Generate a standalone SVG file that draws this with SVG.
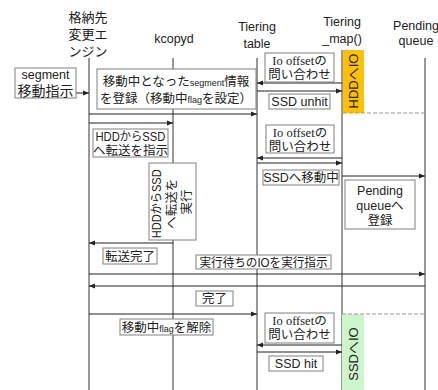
<svg xmlns="http://www.w3.org/2000/svg" width="438" height="390" viewBox="0 0 438 390">
<style>
text{font-family:"Liberation Sans","Noto Sans CJK JP",sans-serif;fill:#222;font-size:12.5px}
.c{text-anchor:middle}
.serif{font-family:"Liberation Serif","Noto Sans CJK JP",serif}
.box{fill:#fff;stroke:#808080;stroke-width:1}
.life{stroke:#333;stroke-width:1;fill:none}
.msg{stroke:#222;stroke-width:1;fill:none;marker-end:url(#ah)}
.dash{stroke:#999;stroke-width:1;stroke-dasharray:4 2;fill:none}
.sm{font-size:9px}
</style>
<defs>
<marker id="ah" markerUnits="userSpaceOnUse" markerWidth="6" markerHeight="6" refX="6" refY="3" orient="auto">
<path d="M0,0.5 L6,3 L0,5.5 z" fill="#222"/>
</marker>
</defs>

<g id="lifelines">
<line class="life" x1="89" y1="58" x2="89" y2="390"/>
<line class="life" x1="173" y1="58" x2="173" y2="390"/>
<line class="life" x1="257" y1="58" x2="257" y2="390"/>
<line class="life" x1="342" y1="50" x2="342" y2="390"/>
<line class="life" x1="425" y1="58" x2="425" y2="390"/>
</g>

<g id="engine">
<text class="c" x="88" y="22" style="font-size:13px">格納先</text>
<text class="c" x="88" y="39" style="font-size:13px">変更エ</text>
<text class="c" x="88" y="56" style="font-size:13px">ンジン</text>
</g>
<g id="kcopyd"><text class="c" x="174" y="43">kcopyd</text></g>
<g id="tiering-table">
<text class="c" x="257" y="31">Tiering</text>
<text class="c" x="257" y="48">table</text>
</g>
<g id="tiering-map">
<text class="c" x="342" y="26">Tiering</text>
<text class="c" x="342" y="43">_map()</text>
</g>
<g id="pending-queue">
<text class="c" x="416" y="30">Pending</text>
<text class="c" x="416" y="45">queue</text>
</g>

<g id="hdd-io">
<rect x="343" y="50" width="21" height="63" fill="#FFC000"/>
<text class="c" transform="translate(358,81) rotate(-90)" style="font-size:13px">HDDへIO</text>
</g>
<g id="ssd-io">
<rect x="342" y="314" width="22" height="76" fill="#CCF5CC"/>
<text class="c" transform="translate(358,354) rotate(-90)" style="font-size:13px">SSDへIO</text>
</g>

<g id="connectors">
<line class="msg" x1="36" y1="93" x2="89" y2="93"/>
<line class="msg" x1="89" y1="114" x2="257" y2="114"/>
<line class="msg" x1="89" y1="123" x2="173" y2="123"/>
<line class="msg" x1="342" y1="83" x2="257" y2="83"/>
<line class="msg" x1="257" y1="91" x2="342" y2="91"/>
<line class="dash" x1="343" y1="113" x2="425" y2="113"/>
<line class="msg" x1="342" y1="158" x2="257" y2="158"/>
<line class="msg" x1="257" y1="163" x2="342" y2="163"/>
<line class="msg" x1="342" y1="176" x2="425" y2="176"/>
<line class="msg" x1="173" y1="243" x2="89" y2="243"/>
<line class="msg" x1="89" y1="274" x2="425" y2="274"/>
<line class="msg" x1="425" y1="286" x2="89" y2="286"/>
<line class="msg" x1="89" y1="314" x2="257" y2="314"/>
<line class="dash" x1="342" y1="314" x2="425" y2="314"/>
<line class="msg" x1="342" y1="345" x2="257" y2="345"/>
<line class="msg" x1="257" y1="352" x2="342" y2="352"/>
</g>

<g id="segment-move">
<rect class="box" x="15" y="68" width="61" height="30"/>
<text class="c" x="45.5" y="79">segment</text>
<text class="c" x="45.5" y="96" style="font-size:14px">移動指示</text>
</g>
<g id="register-segment">
<rect class="box" x="97" y="69" width="159" height="40"/>
<text class="c" x="176" y="86">移動中となった<tspan class="sm">segment</tspan>情報</text>
<text class="c" x="176" y="103">を登録（移動中<tspan class="sm">flag</tspan>を設定）</text>
</g>
<g id="query1">
<rect class="box" x="265" y="53" width="69" height="29"/>
<text class="c serif" x="299.5" y="65">Io offsetの</text>
<text class="c" x="299.5" y="79">問い合わせ</text>
</g>
<g id="ssd-unhit">
<rect class="box" x="269" y="94" width="61" height="15"/>
<text class="c" x="299.5" y="106">SSD unhit</text>
</g>
<g id="instruct-transfer">
<rect class="box" x="93" y="129" width="75" height="28"/>
<text class="c" x="130.5" y="141" textLength="70" lengthAdjust="spacingAndGlyphs">HDDからSSD</text>
<text class="c" x="130.5" y="155">へ転送を指示</text>
</g>
<g id="query2">
<rect class="box" x="266" y="125" width="68" height="28"/>
<text class="c serif" x="300" y="137">Io offsetの</text>
<text class="c" x="300" y="151">問い合わせ</text>
</g>
<g id="ssd-moving">
<rect class="box" x="263" y="170" width="76" height="15"/>
<text class="c" x="301" y="182">SSDへ移動中</text>
</g>
<g id="pending-register">
<rect class="box" x="345" y="180" width="70" height="49"/>
<text class="c" x="380" y="195">Pending</text>
<text class="c" x="380" y="210">queueへ</text>
<text class="c" x="380" y="225">登録</text>
</g>
<g id="kcopyd-exec">
<rect class="box" x="149" y="163" width="47" height="77"/>
<text class="c" transform="translate(172,202) rotate(-90)">
<tspan x="0" y="-11" textLength="69" lengthAdjust="spacingAndGlyphs">HDDからSSD</tspan>
<tspan x="0" y="4">へ転送を</tspan>
<tspan x="0" y="19">実行</tspan>
</text>
</g>
<g id="transfer-done">
<rect class="box" x="103" y="248" width="54" height="16"/>
<text class="c" x="130" y="261">転送完了</text>
</g>
<g id="exec-pending">
<rect class="box" x="196" y="255" width="135" height="14"/>
<text class="c" x="263.5" y="266.5" textLength="128" lengthAdjust="spacingAndGlyphs">実行待ちのIOを実行指示</text>
</g>
<g id="done">
<rect class="box" x="196" y="291" width="37" height="15"/>
<text class="c" x="214.5" y="303">完了</text>
</g>
<g id="clear-flag">
<rect class="box" x="120" y="319" width="93" height="16"/>
<text class="c" x="166.5" y="332">移動中<tspan class="sm">flag</tspan>を解除</text>
</g>
<g id="query3">
<rect class="box" x="265" y="313" width="69" height="30"/>
<text class="c serif" x="299.5" y="325">Io offsetの</text>
<text class="c" x="299.5" y="339">問い合わせ</text>
</g>
<g id="ssd-hit">
<rect class="box" x="269" y="356" width="54" height="15"/>
<text class="c" x="296" y="368">SSD hit</text>
</g>
</svg>
